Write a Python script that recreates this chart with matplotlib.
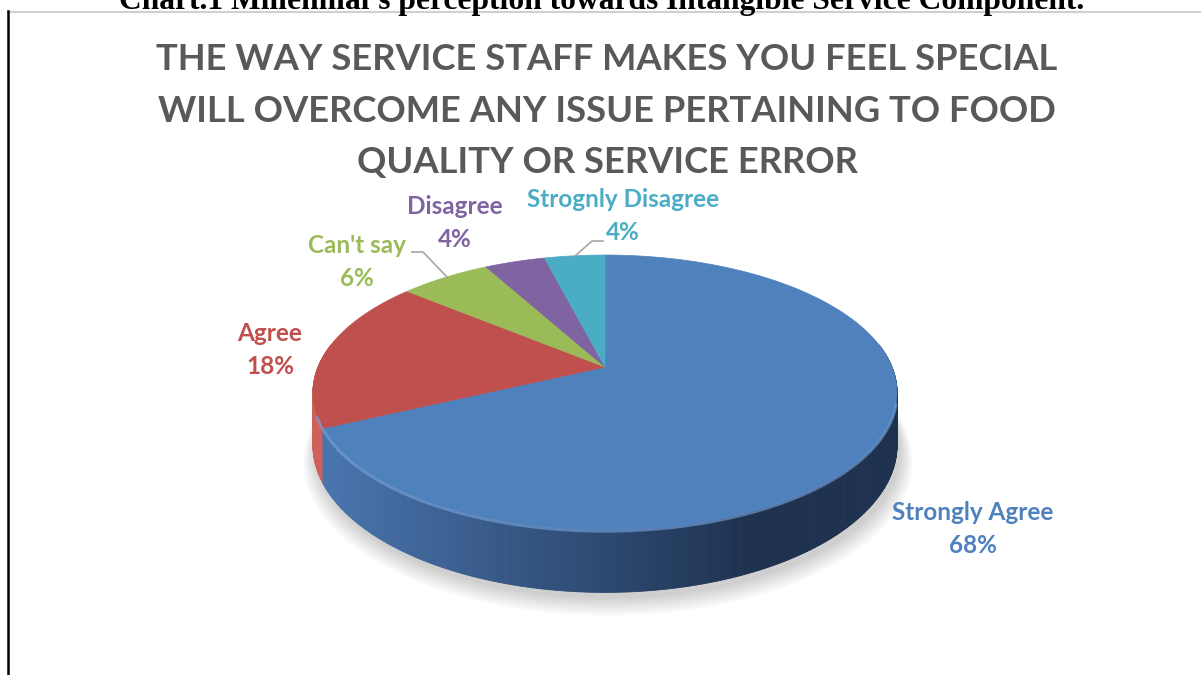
import numpy as np
import matplotlib.pyplot as plt
from matplotlib.patches import Polygon
from matplotlib.colors import to_rgb

# datos de la encuesta
categorias = ['Strongly Agree', 'Agree', "Can't say", 'Disagree', 'Strognly Disagree']
porcentajes = [68, 18, 6, 4, 4]
colores = ['#4f81bd', '#c0504d', '#9bbb59', '#8064a2', '#4bacc6']

titulo = ('THE WAY SERVICE STAFF MAKES YOU FEEL SPECIAL\n'
          'WILL OVERCOME ANY ISSUE PERTAINING TO FOOD\n'
          'QUALITY OR SERVICE ERROR')
leyenda_fig = "Chart.1 Millennial's perception towards Intangible Service Component."

W, H = 1201, 675
fig = plt.figure(figsize=(W / 100, H / 100), dpi=100)
ax = fig.add_axes([0, 0, 1, 1])
ax.set_xlim(0, W)
ax.set_ylim(H, 0)
ax.axis('off')

# geometria del pastel 3D (pixeles)
cx, cy = 605, 367
rx, ry = 287, 132.7
k = 0.185      # perspectiva
D = 51.0       # grosor


def proyectar(t, z=0.0):
    t = np.radians(t)
    u, v = np.cos(t), np.sin(t)
    s = 1.0 / (1.0 + k * v)
    return cx + rx * u * s, cy - ry * v * s + z * D * s


# angulos de cada rebanada, sentido horario desde las 12
frac = np.array(porcentajes) / sum(porcentajes)
inicio = 90 - 360 * np.concatenate([[0], np.cumsum(frac)[:-1]])
fin = inicio - 360 * frac


def rebanada(t):
    a = (90 - t) % 360
    return int(np.searchsorted(np.cumsum(frac) * 360, a, side='right'))


def mezclar(c1, c2, f):
    c1, c2 = np.array(to_rgb(c1)), np.array(to_rgb(c2))
    return tuple(c1 + (c2 - c1) * np.clip(f, 0, 1))


# sombra suave bajo el pastel
ts = np.linspace(0, 360, 200)
for i in range(12):
    esc = 1.0 + 0.004 * i
    xs, ys = [], []
    for t in ts:
        x, y = proyectar(t, 1.0)
        xs.append(cx + (x - cx) * esc + 3)
        ys.append(cy + (y - cy) * esc + 6 + i * 0.7)
    ax.add_patch(Polygon(np.column_stack([xs, ys]), closed=True,
                         facecolor='#000000', alpha=0.016, lw=0, zorder=1))

# cara lateral
lados = {0: ('#4a76b0', '#1e3250'), 1: ('#d0605b', '#b04a47')}
tl = np.linspace(170, 370, 400)
for t0, t1 in zip(tl[:-1], tl[1:]):
    idx = rebanada((t0 + t1) / 2)
    x0, y0 = proyectar(t0)
    x1, y1 = proyectar(t1)
    x0b, y0b = proyectar(t0, 1.0)
    x1b, y1b = proyectar(t1, 1.0)
    f = ((x0 + x1) / 2 - (cx - rx)) / (1.5 * rx)
    c_izq, c_der = lados.get(idx, (colores[idx], colores[idx]))
    col = mezclar(c_izq, c_der, f)
    ax.add_patch(Polygon([(x0, y0), (x1, y1), (x1b, y1b), (x0b, y0b)],
                         closed=True, facecolor=col, edgecolor=col,
                         lw=0.6, zorder=2))

# caras superiores
for i in range(len(porcentajes)):
    tt = np.linspace(inicio[i], fin[i], 200)
    pts = [(cx, cy)] + [proyectar(t) for t in tt]
    ax.add_patch(Polygon(pts, closed=True, facecolor=colores[i],
                         edgecolor=colores[i], lw=0.5, zorder=3))

# brillo del borde frontal
tb = np.linspace(200, 345, 200)
pb = np.array([proyectar(t) for t in tb])
ax.plot(pb[:, 0], pb[:, 1] + 1.5, color='#7aa6de', lw=2.0, alpha=0.6,
        zorder=4, solid_capstyle='round')

# etiquetas
fuente = 'Lato'
etiquetas = [
    (973, 529),
    (270, 350),
    (357, 262),
    (455, 223),
    (623, 216),
]
for i, (x, y) in enumerate(etiquetas):
    ax.text(x, y, f'{categorias[i]}\n{porcentajes[i]}%', color=colores[i],
            fontsize=17.5, fontweight='bold', family=fuente, ha='center',
            va='center', linespacing=1.55, zorder=5)

# lineas guia
ax.plot([412, 423, 447], [252, 252, 277], color='#a6a6a6', lw=1.2, zorder=5)
ax.plot([603, 592, 575], [241, 241, 256], color='#a6a6a6', lw=1.2, zorder=5)

# titulo
ax.text(607, 111, titulo, color='#595959', fontsize=26.2, fontweight='bold',
        family=fuente, ha='center', va='center', linespacing=1.7, zorder=5)

# marco y leyenda del documento
ax.plot([8, W], [11.5, 11.5], color='#d0d0d0', lw=1.5, zorder=6)
ax.plot([8, 8], [11, H], color='black', lw=1.8, zorder=6)
ax.text(602, 9, leyenda_fig, color='black', fontsize=22.7, fontweight='bold',
        family='Liberation Serif', ha='center', va='baseline', zorder=7)

plt.savefig('out.png', dpi=100)
